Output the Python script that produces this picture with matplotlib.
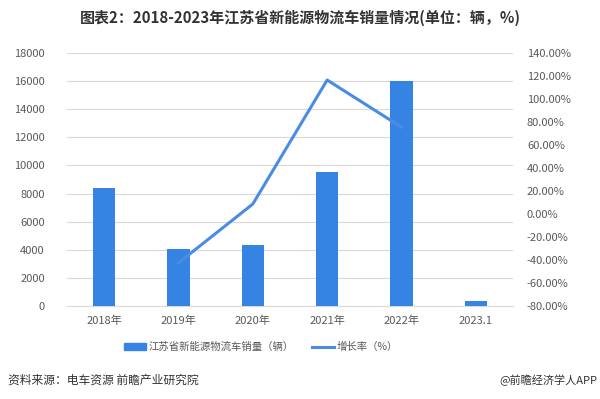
import matplotlib
matplotlib.use("Agg")
import matplotlib.pyplot as plt
from matplotlib.ticker import FuncFormatter
from matplotlib.patches import Patch
from matplotlib.lines import Line2D

plt.rcParams['font.family'] = ['Noto Sans CJK SC', 'DejaVu Sans']

categories = ["2018年", "2019年", "2020年", "2021年", "2022年", "2023.1"]
sales = [8400, 4050, 4350, 9500, 16000, 340]
growth_x = ["2019年", "2020年", "2021年", "2022年"]
growth = [-42.5, 8.7, 116.5, 75.5]

bar_color = "#3584E4"
line_color = "#4A8CE3"
tick_color = "#595959"

fig = plt.figure(figsize=(6.0, 3.99), dpi=100)
ax = fig.add_axes([67/600, 1-306/399, 446/600, 253/399])
x = list(range(len(categories)))
ax.bar(x, sales, width=0.30, color=bar_color, zorder=3)
ax.set_xlim(-0.5, len(categories)-0.5)
ax.set_ylim(0, 18000)
ax.set_yticks(range(0, 18001, 2000))
ax.set_xticks(x)
ax.set_xticklabels(categories)
ax.grid(axis='y', color='#D9D9D9', linewidth=0.8, zorder=0)
for s in ax.spines.values():
    s.set_visible(False)
ax.spines['bottom'].set_visible(True)
ax.spines['bottom'].set_color('#D9D9D9')
ax.tick_params(axis='both', length=0, labelsize=8, colors=tick_color)
ax.tick_params(axis='y', pad=16)
ax.tick_params(axis='x', pad=7)

ax2 = ax.twinx()
gx = [categories.index(c) for c in growth_x]
ax2.plot(gx, growth, color=line_color, linewidth=2.2, zorder=4)
ax2.set_ylim(-80, 140)
ax2.set_yticks(range(-80, 141, 20))
ax2.yaxis.set_major_formatter(FuncFormatter(lambda v, p: f"{v:.2f}%"))
for s in ax2.spines.values():
    s.set_visible(False)
ax2.tick_params(axis='y', length=0, labelsize=8, colors=tick_color, pad=10)

fig.text(0.5, 1-18/399, "图表2：2018-2023年江苏省新能源物流车销量情况(单位：辆，%)",
         ha='center', va='center', fontsize=10.8, fontweight='bold', color='#333333')

handles = [Patch(color=bar_color), Line2D([0], [0], color=line_color, linewidth=2.2)]
labels = ["江苏省新能源物流车销量（辆）", "增长率（%）"]
fig.legend(handles, labels, loc='center', bbox_to_anchor=(261/600, 1-347/399), ncol=2,
           frameon=False, fontsize=7.5, labelcolor=tick_color, handlelength=2.1,
           handleheight=0.6, handletextpad=0.2, columnspacing=1.8)

fig.text(8/600, 1-380/399, "资料来源：电车资源 前瞻产业研究院", ha='left', va='center',
         fontsize=8.5, color='#333333')
fig.text(597/600, 1-380/399, "@前瞻经济学人APP", ha='right', va='center',
         fontsize=8, color='#333333')

fig.savefig("out.png", dpi=100)
